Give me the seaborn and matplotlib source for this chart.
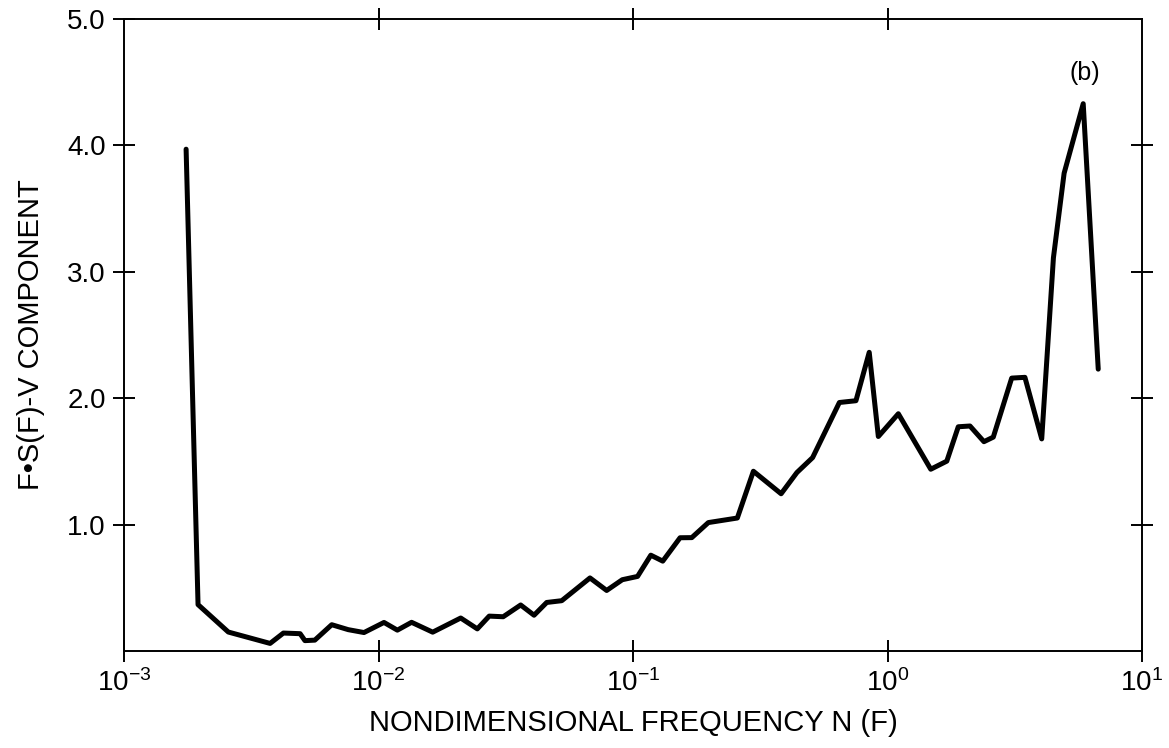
import matplotlib
matplotlib.use("Agg")
import matplotlib.pyplot as plt
import numpy as np
import pandas as pd
import seaborn as sns
from matplotlib.ticker import FixedLocator

# Nondimensional frequency n(f) and the weighted spectrum f*S(f) of the V component
freq = [0.001754, 0.001954, 0.00257, 0.00375, 0.00423, 0.00492, 0.00514, 0.00562,
        0.00655, 0.00760, 0.00877, 0.01051, 0.01186, 0.01349, 0.01633, 0.02104,
        0.02445, 0.02723, 0.03090, 0.03619, 0.04085, 0.04581, 0.05248, 0.06776,
        0.07880, 0.09078, 0.1042, 0.1175, 0.1309, 0.1531, 0.1702, 0.1977,
        0.2570, 0.2972, 0.3819, 0.4406, 0.5078, 0.6471, 0.7516, 0.8476,
        0.9204, 1.103, 1.479, 1.710, 1.897, 2.109, 2.393, 2.604,
        3.076, 3.467, 4.036, 4.487, 4.943, 5.875, 6.730]
spectrum = [3.97, 0.367, 0.150, 0.060, 0.142, 0.137, 0.082, 0.086,
            0.208, 0.169, 0.146, 0.226, 0.165, 0.227, 0.149, 0.261,
            0.175, 0.276, 0.271, 0.364, 0.283, 0.384, 0.398, 0.578,
            0.479, 0.564, 0.590, 0.758, 0.711, 0.896, 0.897, 1.016,
            1.052, 1.422, 1.244, 1.412, 1.530, 1.966, 1.980, 2.363,
            1.697, 1.877, 1.438, 1.502, 1.774, 1.780, 1.656, 1.692,
            2.159, 2.165, 1.678, 3.111, 3.780, 4.330, 2.230]

x_ticks = [1e-3, 1e-2, 1e-1, 1e0, 1e1]
x_tick_labels = [r"$\mathregular{10^{-3}}$", r"$\mathregular{10^{-2}}$",
                 r"$\mathregular{10^{-1}}$", r"$\mathregular{10^{0}}$",
                 r"$\mathregular{10^{1}}$"]
top_ticks = [1e-2, 1e-1, 1e0]
y_ticks = [1.0, 2.0, 3.0, 4.0, 5.0]
y_tick_labels = ["1.0", "2.0", "3.0", "4.0", "5.0"]
right_ticks = [1.0, 2.0, 3.0, 4.0]

x_label = "NONDIMENSIONAL FREQUENCY N (F)"
y_label = "F\u2022S(F)-V COMPONENT"
panel_label = "(b)"

sns.set_theme(style="ticks")
plt.rcParams["font.family"] = ["Liberation Sans", "DejaVu Sans"]
plt.rcParams["mathtext.fontset"] = "custom"
plt.rcParams["mathtext.rm"] = "Liberation Sans"
plt.rcParams["axes.edgecolor"] = "black"
plt.rcParams["axes.linewidth"] = 1.4

W, H = 1169, 748
fig = plt.figure(figsize=(W / 100, H / 100), dpi=100)
fig.patch.set_facecolor("white")
ax = fig.add_axes([124 / W, 1 - 651 / H, (1142 - 124) / W, (651 - 19) / H])
ax.set_facecolor("white")

df = pd.DataFrame({"freq": freq, "fs": spectrum})
sns.lineplot(data=df, x="freq", y="fs", ax=ax, color="black", linewidth=3.6,
             estimator=None, sort=False)

ax.set_xscale("log")
ax.set_xlim(1e-3, 1e1)
ax.set_ylim(0, 5)

# Major ticks (labelled) on the bottom and left frame lines
ax.xaxis.set_major_locator(FixedLocator(x_ticks))
ax.set_xticklabels(x_tick_labels)
ax.yaxis.set_major_locator(FixedLocator(y_ticks))
ax.set_yticklabels(y_tick_labels)
ax.tick_params(axis="both", which="major", direction="inout", length=16,
               width=1.4, colors="black", labelsize=20, pad=5,
               bottom=True, left=True, top=False, right=False)

# Unlabelled crossing ticks on the top and right frame lines
ax.xaxis.remove_overlapping_locs = False
ax.yaxis.remove_overlapping_locs = False
ax.xaxis.set_minor_locator(FixedLocator(top_ticks))
ax.yaxis.set_minor_locator(FixedLocator(right_ticks))
ax.tick_params(axis="both", which="minor", direction="inout", length=16,
               width=1.4, colors="black", bottom=False, left=False,
               top=True, right=True, labelbottom=False, labelleft=False,
               labeltop=False, labelright=False)

ax.set_xlabel(x_label, fontsize=21, labelpad=9, color="black")
ax.set_ylabel(y_label, fontsize=21, labelpad=16, color="black")

ax.text(5.97, 4.57, panel_label, ha="center", va="center", fontsize=18,
        color="black")

fig.savefig("out.png", dpi=100, facecolor="white")
